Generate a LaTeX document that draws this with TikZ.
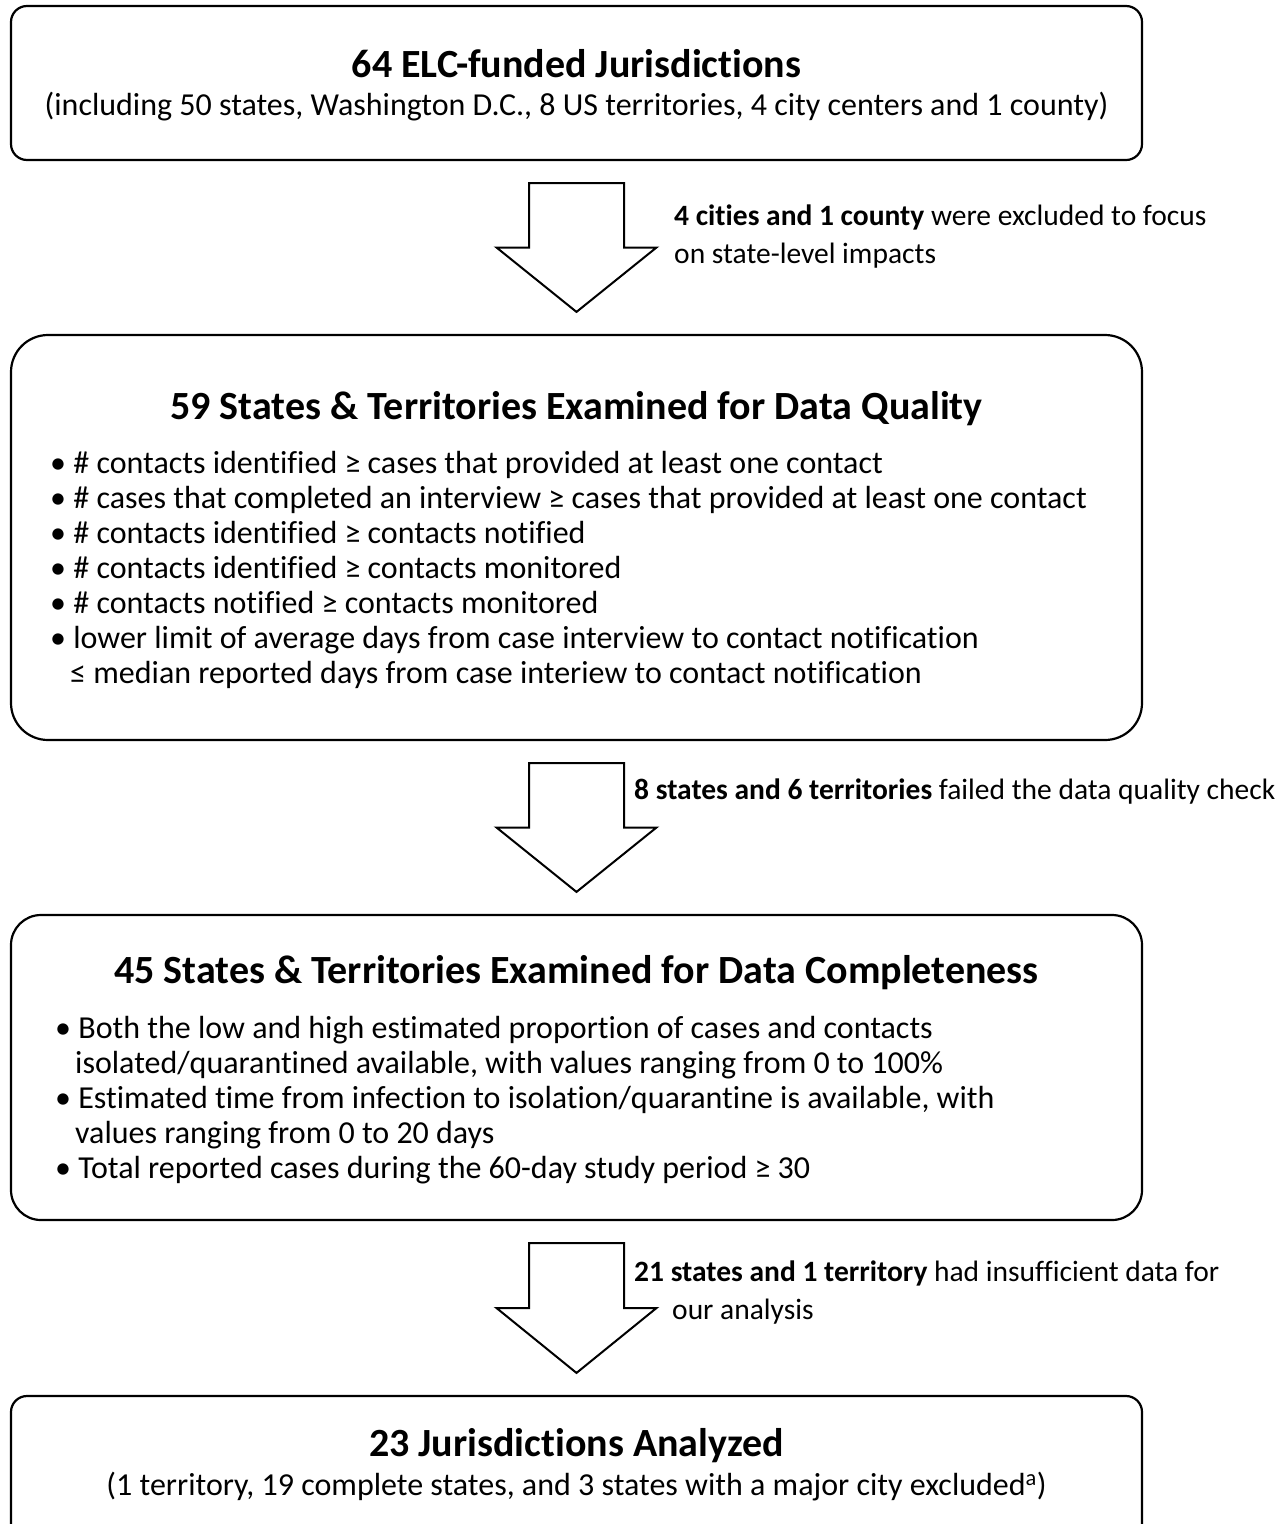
\documentclass[tikz,border=0pt]{standalone}
\usepackage{fontspec}
\setmainfont{Carlito}[Ligatures=CommonOff]
\usepackage{tikz}
\usetikzlibrary{calc}

\tikzset{
  box/.style={draw, line width=2.2pt, rounded corners=#1, minimum width=1131pt, inner sep=0pt},
  box/.default=16pt,
  blockarrow/.style={draw, line width=2pt, fill=white, line join=miter},
  title/.style={font=\fontsize{40}{46}\selectfont\bfseries, anchor=base, inner sep=0pt},
  bodytext/.style={font=\fontsize{32}{35}\selectfont, anchor=base west, inner sep=0pt},
  note/.style={font=\fontsize{29.5}{38}\selectfont, anchor=base west, inner sep=0pt},
}

% block arrow between two boxes
\newcommand{\flowstep}[3]{%
  \coordinate (#1t) at ($(#2.south)+(0,22)$);
  \coordinate (#1p) at ($(#3.north)+(0,-22)$);
  \coordinate (#1m) at ($(#1t)!0.5!(#1p)$);
  \draw[blockarrow] ($(#1t)+(-47.5,0)$) -- ($(#1t)+(47.5,0)$) -- ($(#1m)+(47.5,0)$)
    -- ($(#1m)+(80,0)$) -- (#1p) -- ($(#1m)+(-80,0)$) -- ($(#1m)+(-47.5,0)$) -- cycle;
}

\begin{document}
\begin{tikzpicture}[x=1pt,y=-1pt]
  \useasboundingbox (0,0) rectangle (1282,1524);

  % boxes
  \node[box, minimum height=154pt] (b1) at (576.5,83) {};
  \node[box=37pt, minimum height=405pt] (b2) at (576.5,537.5) {};
  \node[box=30pt, minimum height=305pt] (b3) at (576.5,1067.5) {};
  \node[box, minimum height=164pt] (b4) at (576.5,1478) {};

  % arrows
  \flowstep{a1}{b1}{b2}
  \flowstep{a2}{b2}{b3}
  \flowstep{a3}{b3}{b4}

  % box 1
  \node[title] (t1) at (576.5,77) {64 ELC-funded Jurisdictions};
  \node[bodytext, anchor=base] (s1) at (576.5,115) {(including 50 states, Washington D.C., 8 US territories, 4 city centers and 1 county)};

  \node[note] (n1a) at (674,225) {\textbf{4 cities and 1 county} were excluded to focus};
  \node[note] (n1b) at (674,263) {on state-level impacts};

  % box 2
  \node[title] (t2) at (576.5,419) {59 States \& Territories Examined for Data Quality};
  \node[bodytext] (q1) at (50,473) {\textbullet{} \# contacts identified ≥ cases that provided at least one contact};
  \node[bodytext] (q2) at (50,508) {\textbullet{} \# cases that completed an interview ≥ cases that provided at least one contact};
  \node[bodytext] (q3) at (50,543) {\textbullet{} \# contacts identified ≥ contacts notified};
  \node[bodytext] (q4) at (50,578) {\textbullet{} \# contacts identified ≥ contacts monitored};
  \node[bodytext] (q5) at (50,613) {\textbullet{} \# contacts notified ≥ contacts monitored};
  \node[bodytext] (q6) at (50,648) {\textbullet{} lower limit of average days from case interview to contact notification};
  \node[bodytext] (q7) at (70,683) {≤ median reported days from case interiew to contact notification};

  \node[note] (n2) at (634,799) {\textbf{8 states and 6 territories} failed the data quality check};

  % box 3
  \node[title] (t3) at (576.5,983) {45 States \& Territories Examined for Data Completeness};
  \node[bodytext] (c1) at (55,1038) {\textbullet{} Both the low and high estimated proportion of cases and contacts};
  \node[bodytext] (c2) at (75,1073) {isolated/quarantined available, with values ranging from 0 to 100\%};
  \node[bodytext] (c3) at (55,1108) {\textbullet{} Estimated time from infection to isolation/quarantine is available, with};
  \node[bodytext] (c4) at (75,1143) {values ranging from 0 to 20 days};
  \node[bodytext] (c5) at (55,1178) {\textbullet{} Total reported cases during the 60-day study period ≥ 30};

  \node[note] (n3a) at (634,1281) {\textbf{21 states and 1 territory} had insufficient data for};
  \node[note] (n3b) at (672,1319) {our analysis};

  % box 4
  \node[title] (t4) at (576.5,1456) {23 Jurisdictions Analyzed};
  \node[bodytext, anchor=base] (s4) at (576.5,1495) {(1 territory, 19 complete states, and 3 states with a major city excluded\textsuperscript{a})};
\end{tikzpicture}
\end{document}
